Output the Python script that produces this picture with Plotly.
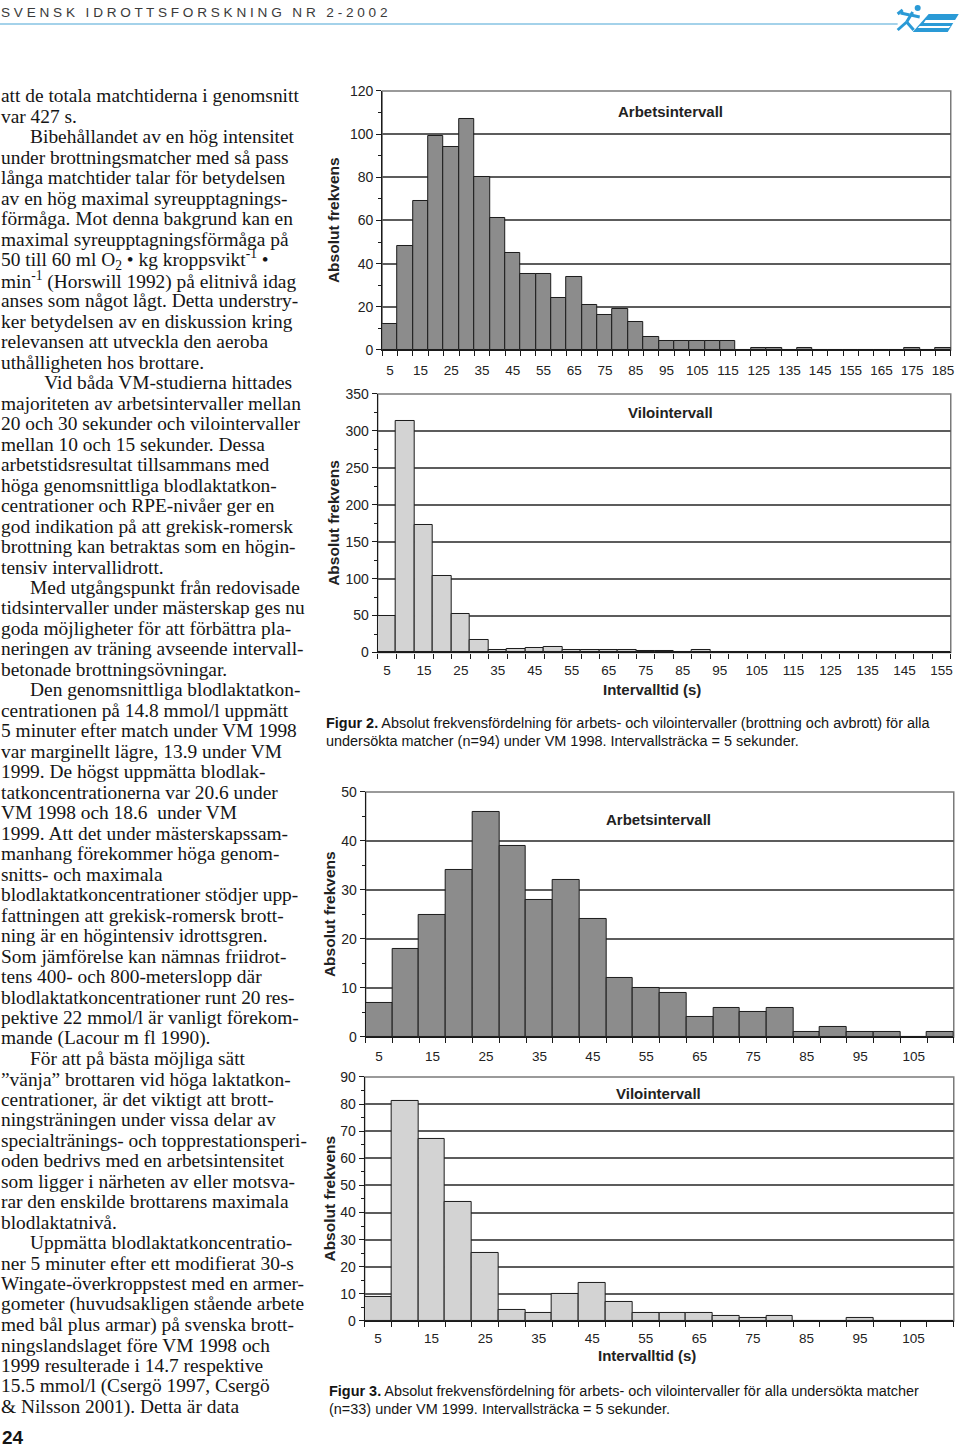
import plotly.graph_objects as go

W, H = 960, 1450

# ---------------- DATA ----------------
bins_98_arbets = [5, 10, 15, 20, 25, 30, 35, 40, 45, 50, 55, 60, 65, 70, 75, 80, 85, 90, 95,
                  100, 105, 110, 115, 120, 125, 130, 135, 140, 145, 150, 155, 160, 165, 170,
                  175, 180, 185]
arbets_98 = [12, 48, 69, 99, 94, 107, 80, 61, 45, 35, 35, 24, 34, 21, 16, 19, 13, 6, 4,
             4, 4, 4, 4, 0, 1, 1, 0, 1, 0, 0, 0, 0, 0, 0, 1, 0, 1]
ticks_98_arbets = [5, 15, 25, 35, 45, 55, 65, 75, 85, 95, 105, 115, 125, 135, 145, 155, 165, 175, 185]

bins_98_vilo = [5, 10, 15, 20, 25, 30, 35, 40, 45, 50, 55, 60, 65, 70, 75, 80, 85, 90, 95,
                100, 105, 110, 115, 120, 125, 130, 135, 140, 145, 150, 155]
vilo_98 = [49, 314, 173, 104, 52, 17, 3, 5, 6, 7, 3, 4, 4, 4, 2, 2, 0, 3, 0,
           0, 0, 0, 0, 0, 0, 0, 0, 0, 0, 0, 0]
ticks_98_vilo = [5, 15, 25, 35, 45, 55, 65, 75, 85, 95, 105, 115, 125, 135, 145, 155]

bins_99 = [5, 10, 15, 20, 25, 30, 35, 40, 45, 50, 55, 60, 65, 70, 75, 80, 85, 90, 95, 100, 105, 110]
arbets_99 = [7, 18, 25, 34, 46, 39, 28, 32, 24, 12, 10, 9, 4, 6, 5, 6, 1, 2, 1, 1, 0, 1]
vilo_99 = [9, 81, 67, 44, 25, 4, 3, 10, 14, 7, 3, 3, 3, 2, 1, 2, 0, 0, 1, 0, 0, 0]
ticks_99 = [5, 15, 25, 35, 45, 55, 65, 75, 85, 95, 105]

TEXT_LINES = [
    "att de totala matchtiderna i genomsnitt",
    "var 427 s.",
    "\u2003\u2002Bibehållandet av en hög intensitet",
    "under brottningsmatcher med så pass",
    "långa matchtider talar för betydelsen",
    "av en hög maximal syreupptagnings-",
    "förmåga. Mot denna bakgrund kan en",
    "maximal syreupptagningsförmåga på",
    "50 till 60 ml O<sub>2</sub> • kg kroppsvikt<sup>-1</sup> •",
    "min<sup>-1</sup> (Horswill 1992) på elitnivå idag",
    "anses som något lågt. Detta understry-",
    "ker betydelsen av en diskussion kring",
    "relevansen att utveckla den aeroba",
    "uthålligheten hos brottare.",
    "\u2003\u2003 Vid båda VM-studierna hittades",
    "majoriteten av arbetsintervaller mellan",
    "20 och 30 sekunder och vilointervaller",
    "mellan 10 och 15 sekunder. Dessa",
    "arbetstidsresultat tillsammans med",
    "höga genomsnittliga blodlaktatkon-",
    "centrationer och RPE-nivåer ger en",
    "god indikation på att grekisk-romersk",
    "brottning kan betraktas som en högin-",
    "tensiv intervallidrott.",
    "\u2003\u2002Med utgångspunkt från redovisade",
    "tidsintervaller under mästerskap ges nu",
    "goda möjligheter för att förbättra pla-",
    "neringen av träning avseende intervall-",
    "betonade brottningsövningar.",
    "\u2003\u2002Den genomsnittliga blodlaktatkon-",
    "centrationen på 14.8 mmol/l uppmätt",
    "5 minuter efter match under VM 1998",
    "var marginellt lägre, 13.9 under VM",
    "1999. De högst uppmätta blodlak-",
    "tatkoncentrationerna var 20.6 under",
    "VM 1998 och 18.6  under VM",
    "1999. Att det under mästerskapssam-",
    "manhang förekommer höga genom-",
    "snitts- och maximala",
    "blodlaktatkoncentrationer stödjer upp-",
    "fattningen att grekisk-romersk brott-",
    "ning är en högintensiv idrottsgren.",
    "Som jämförelse kan nämnas friidrot-",
    "tens 400- och 800-meterslopp där",
    "blodlaktatkoncentrationer runt 20 res-",
    "pektive 22 mmol/l är vanligt förekom-",
    "mande (Lacour m fl 1990).",
    "\u2003\u2002För att på bästa möjliga sätt",
    "”vänja” brottaren vid höga laktatkon-",
    "centrationer, är det viktigt att brott-",
    "ningsträningen under vissa delar av",
    "specialtränings- och topprestationsperi-",
    "oden bedrivs med en arbetsintensitet",
    "som ligger i närheten av eller motsva-",
    "rar den enskilde brottarens maximala",
    "blodlaktatnivå.",
    "\u2003\u2002Uppmätta blodlaktatkoncentratio-",
    "ner 5 minuter efter ett modifierat 30-s",
    "Wingate-överkroppstest med en armer-",
    "gometer (huvudsakligen stående arbete",
    "med bål plus armar) på svenska brott-",
    "ningslandslaget före VM 1998 och",
    "1999 resulterade i 14.7 respektive",
    "15.5 mmol/l (Csergö 1997, Csergö",
    "& Nilsson 2001). Detta är data",
]

HEADER_WORDS = ["SVENSK", "IDROTTSFORSKNING", "NR", "2-2002"]
CAPTION_2 = ["<b>Figur 2.</b> Absolut frekvensfördelning för arbets- och vilointervaller (brottning och avbrott) för alla",
             "undersökta matcher (n=94) under VM 1998. Intervallsträcka = 5 sekunder."]
CAPTION_3 = ["<b>Figur 3.</b> Absolut frekvensfördelning för arbets- och vilointervaller för alla undersökta matcher",
             "(n=33) under VM 1999. Intervallsträcka = 5 sekunder."]
PAGE_NO = "24"

# ---------------- HELPERS ----------------
# layout positions are given in page pixels; small offset/scale compensates the page rendering
def px(x):
    return ((x - 1) / 0.994) / W

def py(y):
    return 1 - ((y - 8) / 0.989) / H

DARK = "#8c8c8c"
LIGHT = "#d3d3d3"
GRID = "#5c5c5c"
SANS = "Liberation Sans, Arial, sans-serif"
SERIF = "Liberation Serif, Times New Roman, serif"
NARROW = "Liberation Sans Narrow, Arial Narrow, Liberation Sans, sans-serif"

charts = [
    dict(bins=bins_98_arbets, vals=arbets_98, ticks=ticks_98_arbets, color=DARK,
         x0=382.5, x1=950, y0=91, y1=350, ymax=120, dtick=20, minor=10,
         label="Arbetsintervall", lab=(670, 112), ytx=334, xtitle=None, lblpad=8),
    dict(bins=bins_98_vilo, vals=vilo_98, ticks=ticks_98_vilo, color=LIGHT,
         x0=378, x1=950, y0=394, y1=652.5, ymax=350, dtick=50, minor=25,
         label="Vilointervall", lab=(670, 413), ytx=334, xtitle=(652, 690), lblpad=5),
    dict(bins=bins_99, vals=arbets_99, ticks=ticks_99, color=DARK,
         x0=366, x1=953, y0=792, y1=1037, ymax=50, dtick=10, minor=5,
         label="Arbetsintervall", lab=(658, 820), ytx=330, xtitle=None, lblpad=7),
    dict(bins=bins_99, vals=vilo_99, ticks=ticks_99, color=LIGHT,
         x0=365, x1=953, y0=1077, y1=1321, ymax=90, dtick=10, minor=5,
         label="Vilointervall", lab=(658, 1094), ytx=330, xtitle=(647, 1356), lblpad=5),
]

fig = go.Figure()
layout = {}
shapes = []
annotations = []

for i, c in enumerate(charts):
    n = "" if i == 0 else str(i + 1)
    xa, ya = "x" + n, "y" + n
    fig.add_trace(go.Bar(
        x=c["bins"], y=c["vals"], xaxis=xa, yaxis=ya, width=5,
        marker=dict(color=c["color"], line=dict(color="#1c1c1c", width=1)),
        showlegend=False, hoverinfo="skip"))
    edges = [b - 2.5 for b in c["bins"]] + [c["bins"][-1] + 2.5]
    xmax = edges[-1]
    layout["xaxis" + n] = dict(
        domain=[px(c["x0"]), min(1, px(c["x1"]))], range=[2.5, xmax], anchor=ya,
        tickmode="array", tickvals=c["ticks"], ticktext=[str(t) for t in c["ticks"]],
        ticks="outside", ticklen=c["lblpad"], tickcolor="rgba(0,0,0,0)",
        showline=True, linecolor="#1a1a1a", linewidth=1.3, showgrid=False, zeroline=False,
        tickfont=dict(family=SANS, size=13.5, color="#222"),
        minor=dict(ticks="outside", tickmode="array", tickvals=edges, ticklen=5,
                   tickcolor="#1a1a1a", tickwidth=1, showgrid=False),
        fixedrange=True)
    layout["yaxis" + n] = dict(
        domain=[py(c["y1"]), py(c["y0"])], range=[0, c["ymax"]], anchor=xa,
        tickmode="linear", tick0=0, dtick=c["dtick"],
        ticks="outside", ticklen=5, tickcolor="#1a1a1a",
        showline=True, linecolor="#1a1a1a", linewidth=1.3,
        showgrid=True, gridcolor=GRID, gridwidth=1.5, zeroline=False,
        tickfont=dict(family=SANS, size=14, color="#222"),
        minor=dict(ticks="outside", tickmode="linear", tick0=0, dtick=c["minor"], ticklen=3,
                   tickcolor="#1a1a1a", showgrid=False),
        fixedrange=True)
    shapes.append(dict(type="rect", xref=xa + " domain", yref=ya + " domain",
                       x0=0, x1=1, y0=0, y1=1, line=dict(color="#7a7a7a", width=1.5),
                       layer="below"))
    annotations.append(dict(x=px(c["lab"][0]), y=py(c["lab"][1]), xref="paper", yref="paper",
                            text="<b>" + c["label"] + "</b>", showarrow=False,
                            font=dict(family=SANS, size=15, color="#222"),
                            xanchor="center", yanchor="middle"))
    annotations.append(dict(x=px(c["ytx"]), y=py((c["y0"] + c["y1"]) / 2), xref="paper", yref="paper",
                            text="<b>Absolut frekvens</b>", showarrow=False, textangle=-90,
                            font=dict(family=SANS, size=15.5, color="#222"),
                            xanchor="center", yanchor="middle"))
    if c["xtitle"]:
        annotations.append(dict(x=px(c["xtitle"][0]), y=py(c["xtitle"][1]), xref="paper", yref="paper",
                                text="<b>Intervalltid (s)</b>", showarrow=False,
                                font=dict(family=SANS, size=15, color="#222"),
                                xanchor="center", yanchor="middle"))

# ---- body text column ----
for k, line in enumerate(TEXT_LINES):
    annotations.append(dict(x=px(0), y=py(96 + 20.48 * k), xref="paper", yref="paper",
                            text=line, showarrow=False, xanchor="left", yanchor="middle",
                            font=dict(family=SERIF, size=19.4, color="#151515")))

# ---- captions ----
for k, line in enumerate(CAPTION_2):
    annotations.append(dict(x=px(324), y=py(723 + 18.5 * k), xref="paper", yref="paper",
                            text=line, showarrow=False, xanchor="left", yanchor="middle",
                            font=dict(family=NARROW, size=14.45, color="#151515")))
for k, line in enumerate(CAPTION_3):
    annotations.append(dict(x=px(327), y=py(1391 + 18.5 * k), xref="paper", yref="paper",
                            text=line, showarrow=False, xanchor="left", yanchor="middle",
                            font=dict(family=NARROW, size=14.45, color="#151515")))

# ---- header ----
header_text = "\u2002 ".join(" ".join(w) for w in HEADER_WORDS)
annotations.append(dict(x=px(0), y=py(13), xref="paper", yref="paper",
                        text=header_text,
                        showarrow=False, xanchor="left", yanchor="middle",
                        font=dict(family=SANS, size=13.6, color="#3a3a3a")))
shapes.append(dict(type="line", xref="paper", yref="paper", x0=px(0), x1=px(897),
                   y0=py(24), y1=py(24), line=dict(color="#4aa6d6", width=1.2)))

# ---- logo (approximation) ----
BLUE = "#2a9ad6"
def path(pts):
    return "M " + " L ".join(f"{px(x):.5f},{py(y):.5f}" for x, y in pts) + " Z"

shapes.append(dict(type="path", xref="paper", yref="paper",
                   path=path([(928, 14), (958, 14), (947, 32), (912, 32)]),
                   fillcolor=BLUE, line=dict(width=0)))
shapes.append(dict(type="path", xref="paper", yref="paper",
                   path=path([(925, 20), (955, 20), (953, 23), (923, 23)]),
                   fillcolor="white", line=dict(width=0)))
shapes.append(dict(type="path", xref="paper", yref="paper",
                   path=path([(919, 26), (950, 26), (948, 28), (917, 28)]),
                   fillcolor="white", line=dict(width=0)))
shapes.append(dict(type="circle", xref="paper", yref="paper",
                   x0=px(914), x1=px(920), y0=py(11), y1=py(5),
                   fillcolor=BLUE, line=dict(width=0)))
for (xa0, ya0, xa1, ya1) in [(912, 12, 906, 22), (906, 22, 897, 30), (906, 22, 913, 30),
                             (909, 15, 900, 13), (910, 15, 919, 17), (897, 14, 902, 10)]:
    shapes.append(dict(type="line", xref="paper", yref="paper",
                       x0=px(xa0), y0=py(ya0), x1=px(xa1), y1=py(ya1),
                       line=dict(color=BLUE, width=3)))

# ---- page number ----
annotations.append(dict(x=px(1), y=py(1438), xref="paper", yref="paper",
                        text="<b>" + PAGE_NO + "</b>", showarrow=False,
                        xanchor="left", yanchor="middle",
                        font=dict(family=SANS, size=19, color="#151515")))

fig.update_layout(
    width=W, height=H, margin=dict(l=0, r=0, t=0, b=0),
    paper_bgcolor="white", plot_bgcolor="white",
    bargap=0, shapes=shapes, annotations=annotations, **layout)

fig.write_html("out.html", config={"displayModeBar": False},
               post_script="document.body.style.margin='0';document.body.style.overflow='hidden';")
